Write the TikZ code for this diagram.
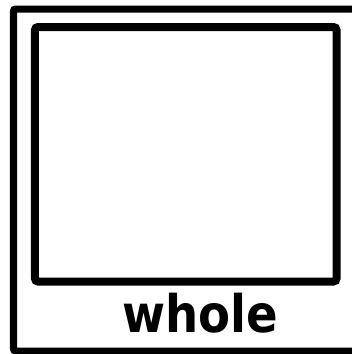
\documentclass[tikz,border=0pt]{standalone}
\usepackage{fontspec}
\newfontfamily\cardfont{DejaVu Sans}
\usetikzlibrary{positioning}

\begin{document}
\begin{tikzpicture}[
  x=1bp, y=-1bp,
  cardframe/.style={
    draw=black,
    line width=7bp,
    rounded corners=2bp
  },
  picbox/.style={
    draw=black,
    fill=white,
    line width=8bp,
    rounded corners=3bp,
    minimum width=301.5bp,
    minimum height=254.5bp,
    inner sep=0pt
  },
  wordlabel/.style={
    font=\cardfont\bfseries\fontsize{52}{52}\selectfont,
    text=black,
    xscale=0.9,
    inner sep=0pt
  }
]
  % Card area (cut at the page edge)
  \useasboundingbox (0,0) rectangle (352,354);
  \clip (0,0) rectangle (352,354);

  % Outer card frame
  \draw[cardframe] (13.5,9) rectangle (356,351);

  % Picture box and its word
  \node[picbox] (pic) at (185.75,154.25) {};
  \node[wordlabel, anchor=base] (word) at (200,332) {whole};
\end{tikzpicture}
\end{document}
